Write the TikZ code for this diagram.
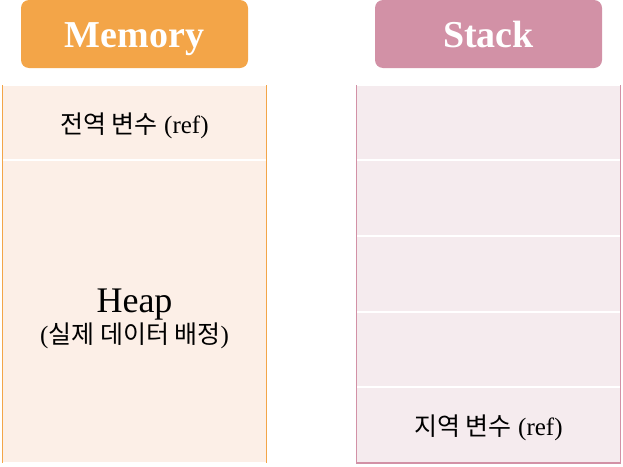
\documentclass[tikz,border=0pt]{standalone}
\usepackage{fontspec}
\setmainfont{Liberation Serif}
\newfontfamily\kr{Noto Sans CJK KR}
\definecolor{memhead}{HTML}{F3A548}
\definecolor{memfill}{HTML}{FCEFE7}
\definecolor{memline}{HTML}{F3A548}
\definecolor{stkhead}{HTML}{D291A6}
\definecolor{stkfill}{HTML}{F5EBEE}
\definecolor{stkline}{HTML}{D291A6}
\tikzset{
  header/.style={rounded corners=8pt, minimum width=227pt, minimum height=68pt,
    inner sep=0pt, text=white, text height=26pt, text depth=0pt,
    font=\bfseries\fontsize{38}{40}\selectfont},
  cell/.style={draw=white, line width=1.5pt, minimum width=264pt, inner sep=0pt, outer sep=0pt},
  celltext/.style={anchor=base, inner sep=0pt, font=\fontsize{25}{28}\selectfont},
  border/.style={line width=1.8pt},
}
\begin{document}
\begin{tikzpicture}[x=1pt,y=-1pt]
\useasboundingbox (0,0) rectangle (623,466);
% headers
\node[header, fill=memhead] (memhdr) at (134.5,34) {Memory};
\node[header, fill=stkhead] (stkhdr) at (488.5,34) {Stack};
% memory column
\node[cell, fill=memfill, minimum height=75pt] (global) at (134.5,122.5) {};
\node[cell, fill=memfill, minimum height=303pt] (heap) at (134.5,311.5) {};
\node[celltext] (globaltxt) at (134.5,133) {{\kr 전역 변수} (ref)};
\node[anchor=base, inner sep=0pt, font=\fontsize{36}{40}\selectfont] (heaptxt) at (134.5,312) {Heap};
\node[anchor=base, inner sep=0pt, font=\fontsize{25}{28}\selectfont] (heapsub) at (134.5,343) {({\kr 실제 데이터 배정})};
\draw[memline, border] (global.north west) -- (heap.south west);
\draw[memline, border] (global.north east) -- (heap.south east);
% stack column
\node[cell, fill=stkfill, minimum height=75pt] (s1) at (488.5,122.5) {};
\node[cell, fill=stkfill, minimum height=76pt] (s2) at (488.5,198) {};
\node[cell, fill=stkfill, minimum height=76pt] (s3) at (488.5,274) {};
\node[cell, fill=stkfill, minimum height=75pt] (s4) at (488.5,349.5) {};
\node[cell, fill=stkfill, minimum height=76pt] (s5) at (488.5,425) {};
\node[celltext] (localtxt) at (488.5,435) {{\kr 지역 변수} (ref)};
\draw[stkline, border] (s1.north west) -- (s5.south west) -- (s5.south east) -- (s1.north east);
\end{tikzpicture}
\end{document}
